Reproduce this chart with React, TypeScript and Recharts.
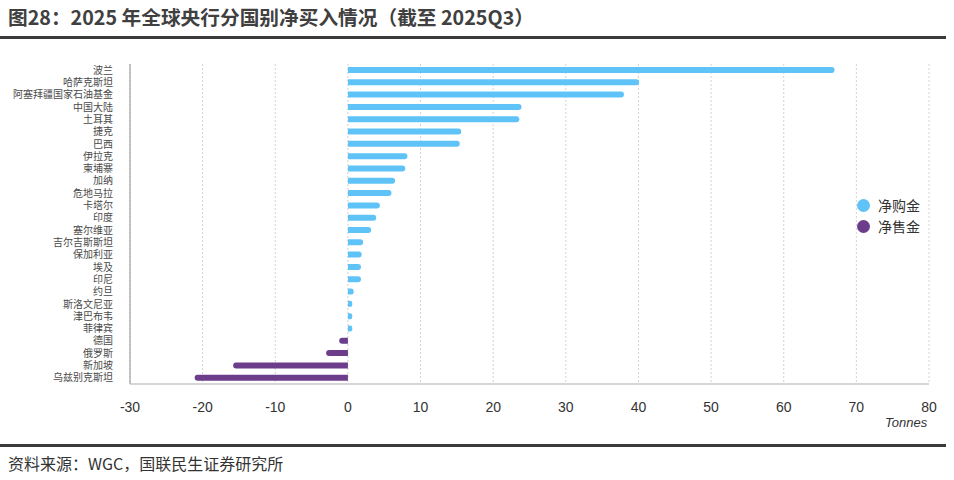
import React from 'react';
import { BarChart, Bar, XAxis, YAxis, CartesianGrid } from 'recharts';

// 2025年各国央行净买入黄金（吨），截至2025Q3
const countries = [
  '波兰', '哈萨克斯坦', '阿塞拜疆国家石油基金', '中国大陆', '土耳其', '捷克', '巴西',
  '伊拉克', '柬埔寨', '加纳', '危地马拉', '卡塔尔', '印度', '塞尔维亚', '吉尔吉斯斯坦',
  '保加利亚', '埃及', '印尼', '约旦', '斯洛文尼亚', '津巴布韦', '菲律宾',
  '德国', '俄罗斯', '新加坡', '乌兹别克斯坦',
];
const netBuy = [
  67.0, 40.1, 38.0, 23.9, 23.6, 15.6, 15.4, 8.2, 7.9, 6.5, 6.0, 4.4, 3.9, 3.2, 2.1,
  1.9, 1.8, 1.8, 0.8, 0.6, 0.6, 0.6, 0, 0, 0, 0,
];
const netSell = [
  0, 0, 0, 0, 0, 0, 0, 0, 0, 0, 0, 0, 0, 0, 0, 0, 0, 0, 0, 0, 0, 0,
  -1.2, -3.0, -15.8, -21.1,
];
const xTicks = [-30, -20, -10, 0, 10, 20, 30, 40, 50, 60, 70, 80];

const BUY = '#5fc3f8';
const SELL = '#6b3d8a';
const CJK = '"Noto Sans CJK SC", "Noto Sans", sans-serif';

const data = countries.map((name, i) => ({ name, buy: netBuy[i], sell: netSell[i] }));

const App: React.FC = () => (
  <div style={{ position: 'absolute', left: 0, top: 0, width: 954, height: 480, background: '#fff', fontFamily: CJK, overflow: 'hidden' }}>
    <div style={{ position: 'absolute', left: 8, top: 2, fontSize: 19.7, fontWeight: 700, color: '#404040', whiteSpace: 'nowrap' }}>
      图28：2025 年全球央行分国别净买入情况（截至 2025Q3）
    </div>
    <div style={{ position: 'absolute', left: 0, top: 36, width: 946, height: 2.5, background: '#3a3a3a' }} />

    <div style={{ position: 'absolute', left: 0, top: 0 }}>
      <BarChart
        width={954}
        height={480}
        data={data}
        layout="vertical"
        margin={{ top: 64, right: 25, bottom: 66, left: 10 }}
        barCategoryGap={0}
      >
        <CartesianGrid horizontal={false} strokeDasharray="2 2" stroke="#d2d2d2" />
        <XAxis
          type="number"
          domain={[-30, 80]}
          ticks={xTicks}
          interval={0}
          height={30}
          axisLine={{ stroke: '#c8c8c8', strokeWidth: 1.5 }}
          tickLine={false}
          tickMargin={12}
          tick={{ fill: '#333', fontSize: 14, fontFamily: '"Liberation Sans", Arial, sans-serif' }}
        />
        <YAxis
          type="category"
          dataKey="name"
          width={120}
          interval={0}
          axisLine={{ stroke: '#a0a0a0', strokeWidth: 1.2 }}
          tickLine={false}
          tickMargin={11}
          tick={{ fill: '#4a4a4a', fontSize: 10, fontFamily: CJK }}
        />
        <Bar dataKey="buy" stackId="g" fill={BUY} barSize={6} radius={[0, 3, 3, 0]} isAnimationActive={false} />
        <Bar dataKey="sell" stackId="g" fill={SELL} barSize={6} radius={[0, 3, 3, 0]} isAnimationActive={false} />
      </BarChart>
    </div>

    <div style={{ position: 'absolute', left: 885, top: 415, fontSize: 13, fontStyle: 'italic', color: '#333', fontFamily: '"Liberation Sans", Arial, sans-serif' }}>
      Tonnes
    </div>

    {[
      { label: '净购金', color: BUY, top: 196 },
      { label: '净售金', color: SELL, top: 217 },
    ].map((it) => (
      <div key={it.label} style={{ position: 'absolute', left: 857, top: it.top, height: 18, display: 'flex', alignItems: 'center', fontSize: 14, color: '#333' }}>
        <span style={{ width: 13, height: 13, borderRadius: '50%', background: it.color, display: 'inline-block', marginRight: 8 }} />
        {it.label}
      </div>
    ))}

    <div style={{ position: 'absolute', left: 0, top: 444, width: 946, height: 2.5, background: '#3a3a3a' }} />
    <div style={{ position: 'absolute', left: 8, top: 451, fontSize: 16, color: '#333', whiteSpace: 'nowrap' }}>
      资料来源：WGC，国联民生证券研究所
    </div>
  </div>
);

export default App;
